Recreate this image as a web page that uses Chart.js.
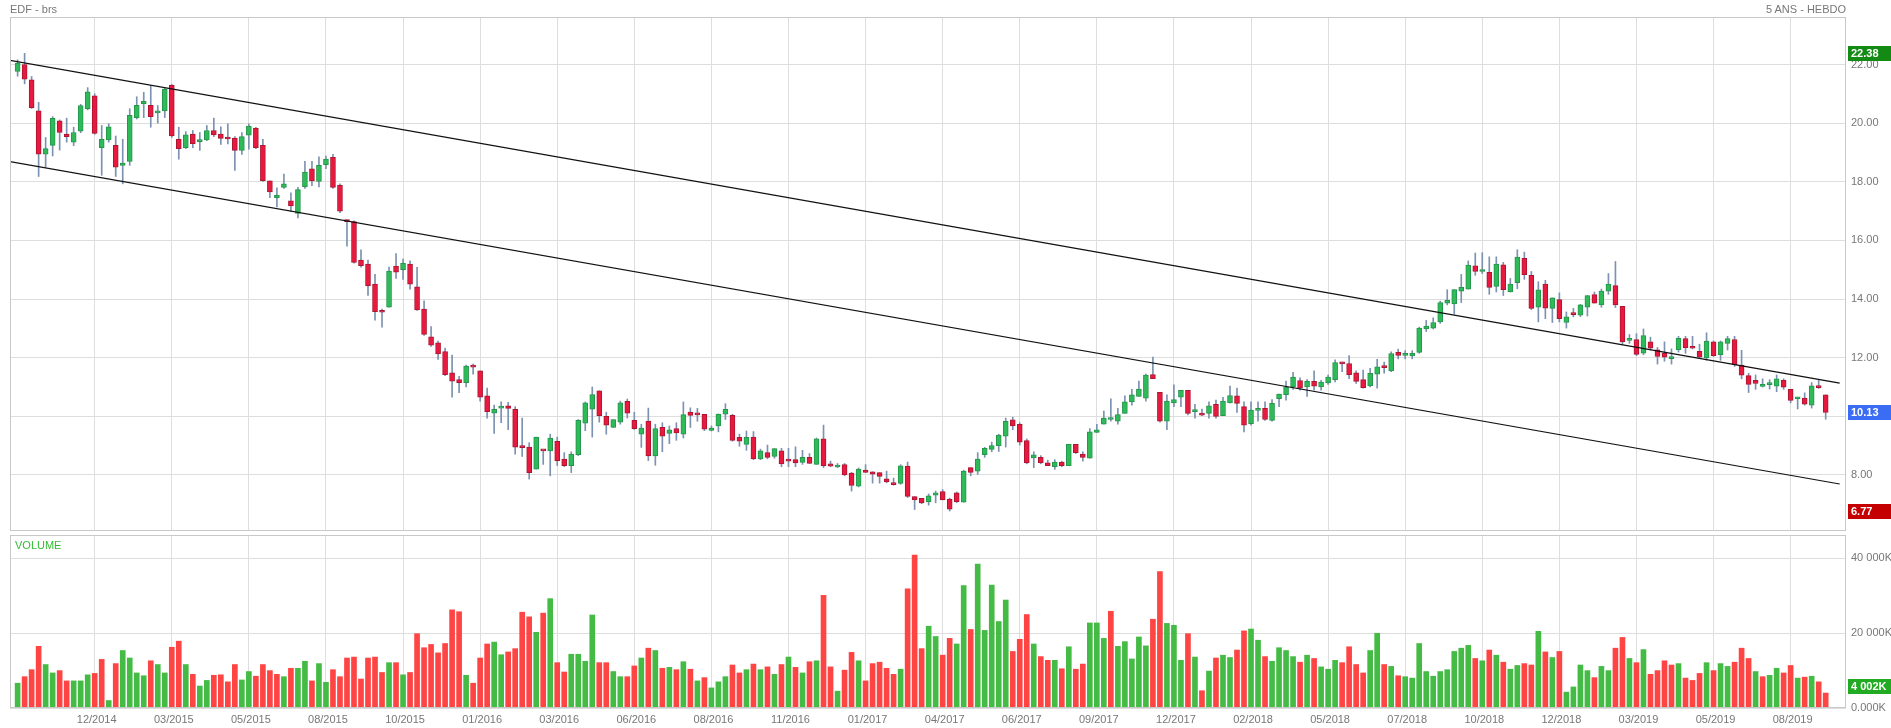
<!DOCTYPE html>
<html lang="fr">
<head>
  <meta charset="UTF-8">
  <title>EDF - brs</title>
  <style>
    html, body { margin: 0; padding: 0; background: #fff; }
    #wrap { position: relative; width: 1891px; height: 728px; overflow: hidden; font-family: "Liberation Sans", Arial, sans-serif; }
    #priceChart { position: absolute; left: 0; top: 0; }
    #volumeChart { position: absolute; left: 0; top: 515px; }
    .lbl { position: absolute; font-size: 11px; line-height: 13px; color: #777; white-space: nowrap; }
  </style>
  <script src="https://cdn.jsdelivr.net/npm/chart.js@4/dist/chart.umd.min.js"></script>
</head>
<body>
  <div id="wrap">
    <canvas id="priceChart" width="1891" height="548"></canvas>
    <canvas id="volumeChart" width="1891" height="213"></canvas>
    <span class="lbl" style="left:10px; top:3px;">EDF - brs</span>
    <span class="lbl" style="right:45px; top:3px;">5 ANS - HEBDO</span>
    <span class="lbl" style="left:15px; top:539px; color:#33bb33;">VOLUME</span>
  </div>

  <script>
    // weekly candles, oldest first (index 0 = first week on the left)
    var opens = [
      21.76, 22.0, 21.48, 20.42, 18.94, 19.24, 20.08, 19.63, 19.35, 19.73, 20.49,
      20.93, 19.16, 19.43, 19.24, 18.56, 18.69, 20.19, 20.66, 20.61, 20.35, 20.42,
      21.29, 19.45, 19.16, 19.63, 19.37, 19.43, 19.75, 19.63, 19.49, 19.49, 19.07,
      19.59, 19.82, 19.24, 18.03, 17.46, 17.81, 17.35, 16.92, 17.82, 18.44, 18.01,
      18.58, 18.83, 17.89, 16.68, 16.64, 15.33, 15.19, 14.51, 13.56, 13.72, 15.12,
      15.0, 15.19, 14.42, 13.66, 12.71, 12.51, 12.21, 11.48, 11.25, 11.15, 11.73,
      11.55, 10.7, 10.11, 10.28, 10.36, 10.24, 8.94, 8.95, 8.2, 8.85, 8.82,
      9.15, 8.54, 8.32, 8.69, 9.77, 10.24, 10.87, 10.0, 9.62, 9.8, 10.51,
      9.86, 9.39, 9.84, 8.65, 9.62, 9.42, 9.58, 9.39, 10.14, 10.08, 10.07,
      9.52, 9.67, 10.07, 10.03, 9.28, 9.04, 9.29, 8.55, 8.76, 8.63, 8.82,
      8.5, 8.52, 8.43, 8.6, 8.36, 9.23, 8.38, 8.27, 8.35, 8.06, 7.62,
      8.17, 8.11, 8.08, 7.87, 7.73, 7.71, 8.3, 7.26, 7.2, 7.08, 7.31,
      7.43, 7.18, 7.39, 7.07, 8.25, 8.13, 8.69, 8.87, 9.0, 9.32, 9.88,
      9.73, 9.17, 8.58, 8.6, 8.41, 8.28, 8.44, 8.32, 9.04, 8.71, 8.57,
      9.45, 9.73, 9.89, 9.83, 10.1, 10.49, 10.68, 10.62, 11.42, 10.82, 9.83,
      10.46, 10.65, 10.89, 10.16, 10.1, 10.1, 10.41, 10.02, 10.46, 10.7, 10.33,
      9.75, 10.2, 10.27, 9.86, 10.6, 10.74, 11.0, 11.22, 11.0, 11.19, 11.0,
      11.14, 11.25, 11.85, 11.8, 11.48, 11.25, 11.04, 11.44, 11.67, 11.55, 12.18,
      12.08, 12.06, 12.18, 12.98, 13.01, 13.22, 13.86, 13.83, 14.27, 14.34, 15.13,
      14.94, 14.91, 14.43, 15.17, 14.24, 14.56, 15.39, 14.81, 13.72, 14.51, 13.68,
      13.98, 13.2, 13.5, 13.45, 13.72, 14.15, 13.8, 14.27, 14.46, 13.75, 12.59,
      12.62, 12.15, 12.54, 12.27, 12.16, 11.97, 12.27, 12.65, 12.33, 12.22, 11.99,
      12.54, 12.1, 12.49, 12.62, 11.75, 11.39, 11.23, 11.02, 11.08, 11.03, 11.23,
      10.92, 10.6, 10.62, 10.38, 11.04, 10.73
    ];
    var highs = [
      22.16, 22.38, 21.59, 20.71, 19.51, 20.22, 20.11, 20.17, 19.86, 20.64, 21.21,
      21.0, 19.92, 19.98, 19.56, 19.45, 20.49, 20.9, 21.05, 21.27, 20.6, 21.21,
      21.32, 19.86, 19.71, 19.75, 19.68, 19.92, 20.17, 19.87, 19.98, 19.54, 19.68,
      19.98, 19.86, 19.45, 18.03, 17.79, 18.26, 17.62, 17.81, 18.7, 18.7, 18.85,
      18.88, 18.94, 17.93, 16.7, 16.67, 15.68, 15.33, 14.84, 13.66, 15.09, 15.55,
      15.36, 15.3, 15.08, 13.94, 13.06, 12.57, 12.33, 12.09, 11.36, 11.75, 11.78,
      11.55, 10.96, 10.38, 10.49, 10.48, 10.33, 9.94, 9.1, 9.29, 8.85, 9.39,
      9.29, 8.76, 8.79, 9.89, 10.49, 11.0, 10.87, 10.14, 9.89, 10.52, 10.59,
      10.14, 9.73, 10.28, 9.73, 9.78, 9.67, 9.78, 10.49, 10.29, 10.27, 10.07,
      9.67, 10.08, 10.43, 10.07, 9.39, 9.5, 9.48, 8.88, 9.02, 8.9, 8.91,
      8.91, 8.96, 8.84, 8.73, 9.26, 9.7, 8.47, 8.39, 8.39, 8.09, 8.24,
      8.35, 8.11, 8.08, 8.13, 7.89, 8.35, 8.44, 7.26, 7.2, 7.35, 7.45,
      7.5, 7.21, 7.42, 8.16, 8.25, 8.76, 8.94, 9.12, 9.39, 9.94, 9.97,
      9.78, 9.23, 8.79, 8.66, 8.5, 8.52, 8.47, 9.04, 9.04, 8.79, 9.58,
      9.73, 10.18, 10.6, 10.27, 10.7, 10.92, 11.2, 11.44, 12.02, 10.82, 10.73,
      11.07, 10.89, 10.89, 10.41, 10.25, 10.49, 10.55, 10.65, 11.03, 10.96, 10.49,
      10.49, 10.49, 10.49, 10.57, 10.76, 11.2, 11.5, 11.31, 11.25, 11.55, 11.23,
      11.41, 11.93, 11.85, 12.07, 11.55, 11.58, 11.64, 11.94, 11.85, 12.2, 12.29,
      12.24, 12.24, 13.04, 13.27, 13.36, 13.93, 14.32, 14.32, 14.84, 15.3, 15.57,
      15.58, 15.44, 15.44, 15.25, 14.7, 15.68, 15.6, 14.94, 14.59, 14.64, 14.04,
      14.21, 13.56, 13.68, 13.82, 14.12, 14.24, 14.34, 14.87, 15.28, 13.75, 12.79,
      12.82, 12.98, 12.7, 12.35, 12.54, 12.3, 12.73, 12.73, 12.73, 12.46, 12.85,
      12.57, 12.57, 12.73, 12.73, 12.25, 11.47, 11.41, 11.28, 11.25, 11.41, 11.28,
      10.92, 10.65, 10.8, 11.15, 11.23, 10.73
    ];
    var lows = [
      21.6, 21.34, 20.5, 18.18, 18.5, 18.88, 19.08, 19.35, 19.23, 19.67, 20.45,
      19.62, 18.22, 19.35, 18.18, 17.93, 18.56, 20.14, 20.19, 19.86, 20.0, 20.19,
      19.51, 18.77, 19.13, 19.16, 19.07, 19.4, 19.54, 19.27, 19.29, 18.39, 18.93,
      19.11, 19.13, 18.01, 17.46, 17.14, 17.77, 16.99, 16.77, 17.77, 17.87, 17.82,
      18.45, 17.77, 16.95, 15.8, 15.22, 15.09, 14.12, 13.28, 13.04, 13.72, 14.7,
      14.67, 14.34, 13.61, 12.76, 12.38, 11.94, 11.39, 10.65, 10.81, 11.0, 11.44,
      10.52, 9.94, 9.42, 9.78, 9.54, 8.71, 8.63, 7.86, 8.2, 8.36, 7.97,
      8.32, 8.28, 8.08, 8.66, 9.51, 9.29, 9.8, 9.39, 9.62, 9.73, 9.94,
      9.55, 8.94, 8.49, 8.33, 8.79, 9.07, 9.18, 9.26, 9.62, 9.83, 9.51,
      9.5, 9.47, 9.89, 9.15, 8.98, 8.84, 8.52, 8.52, 8.55, 8.57, 8.28,
      8.28, 8.28, 8.36, 8.39, 8.36, 8.25, 8.28, 8.25, 7.97, 7.45, 7.59,
      8.08, 7.72, 7.72, 7.73, 7.65, 7.68, 7.23, 6.82, 7.02, 6.97, 7.05,
      7.15, 6.77, 7.05, 7.07, 7.97, 8.02, 8.6, 8.79, 8.8, 8.95, 9.54,
      9.02, 8.38, 8.25, 8.38, 8.32, 8.19, 8.28, 8.32, 8.73, 8.47, 8.57,
      9.45, 9.73, 9.83, 9.73, 10.1, 10.38, 10.68, 10.52, 11.28, 9.8, 9.54,
      10.33, 10.33, 10.05, 9.94, 10.02, 9.94, 9.94, 10.02, 10.46, 10.13, 9.47,
      9.7, 9.83, 9.86, 9.83, 10.33, 10.55, 10.92, 10.89, 10.68, 10.89, 10.89,
      11.09, 11.17, 11.52, 11.28, 11.12, 10.96, 11.0, 10.96, 11.47, 11.52, 11.96,
      11.96, 11.96, 12.15, 12.89, 12.98, 13.17, 13.8, 13.49, 13.88, 14.34, 14.81,
      14.87, 14.16, 14.24, 14.12, 14.24, 14.35, 14.67, 13.64, 13.22, 13.33, 13.2,
      13.22, 13.01, 13.39, 13.4, 13.42, 13.86, 13.72, 14.16, 13.71, 12.46, 12.49,
      12.07, 12.1, 12.26, 11.78, 11.88, 11.78, 12.19, 12.15, 12.3, 11.99, 11.91,
      12.04, 11.91, 12.26, 11.7, 11.28, 10.81, 10.92, 11.0, 10.93, 10.84, 10.92,
      10.46, 10.25, 10.38, 10.28, 10.95, 9.9
    ];
    var closes = [
      22.05, 21.5, 20.53, 18.94, 19.13, 20.16, 19.68, 19.54, 19.68, 20.6, 21.07,
      19.65, 19.45, 19.87, 18.5, 18.64, 20.27, 20.61, 20.74, 20.22, 20.4, 21.16,
      19.56, 19.13, 19.6, 19.3, 19.41, 19.75, 19.6, 19.48, 19.46, 19.07, 19.54,
      19.9, 19.16, 18.04, 17.65, 17.54, 17.93, 17.18, 17.73, 18.33, 18.03, 18.56,
      18.77, 17.81, 17.0, 16.64, 15.25, 15.14, 14.45, 13.57, 13.55, 14.95, 14.92,
      15.22, 14.51, 13.63, 12.79, 12.43, 12.13, 11.42, 11.2, 11.15, 11.71, 11.68,
      10.65, 10.16, 10.24, 10.3, 10.27, 8.95, 8.93, 8.08, 9.29, 8.82, 9.26,
      8.49, 8.32, 8.71, 9.86, 10.46, 10.74, 10.02, 9.7, 9.89, 10.46, 10.11,
      9.58, 9.6, 8.65, 9.58, 9.32, 9.54, 9.43, 10.06, 10.03, 10.05, 9.56,
      9.6, 10.08, 10.24, 9.18, 9.15, 9.28, 8.55, 8.82, 8.6, 8.9, 8.38,
      8.47, 8.41, 8.6, 8.39, 9.23, 8.32, 8.3, 8.32, 8.0, 7.64, 8.2,
      8.09, 8.03, 7.95, 7.76, 7.67, 8.31, 7.27, 7.15, 7.05, 7.29, 7.39,
      7.15, 6.83, 7.09, 8.13, 8.09, 8.54, 8.91, 9.0, 9.36, 9.83, 9.67,
      9.12, 8.41, 8.69, 8.41, 8.32, 8.44, 8.32, 9.04, 8.76, 8.6, 9.47,
      9.54, 9.94, 9.9, 10.06, 10.49, 10.73, 10.93, 11.41, 11.28, 9.83, 10.52,
      10.57, 10.89, 10.1, 10.19, 10.04, 10.36, 10.0, 10.52, 10.71, 10.44, 9.7,
      10.21, 10.22, 9.89, 10.44, 10.76, 11.0, 11.34, 10.96, 11.19, 11.03, 11.17,
      11.34, 11.83, 11.79, 11.42, 11.19, 10.98, 11.47, 11.69, 11.66, 12.14, 12.08,
      12.1, 12.15, 13.01, 13.08, 13.2, 13.88, 13.96, 14.32, 14.4, 15.16, 14.94,
      14.96, 14.4, 15.19, 14.32, 14.51, 15.43, 14.83, 13.68, 14.31, 13.69, 14.04,
      13.33, 13.39, 13.47, 13.8, 14.12, 13.86, 14.27, 14.51, 13.8, 12.54, 12.64,
      12.11, 12.75, 12.32, 12.04, 12.02, 11.99, 12.66, 12.34, 12.32, 12.02, 12.57,
      12.07, 12.54, 12.65, 11.76, 11.4, 11.09, 11.12, 11.05, 11.09, 11.28, 10.99,
      10.54, 10.62, 10.41, 11.04, 10.98, 10.13
    ];
    // weekly volume, in thousands of shares
    var volumes = [
      6625, 8375, 10250, 16500, 11625, 9375, 10000, 7250, 7250, 7250, 8875,
      9250, 13000, 2000, 11875, 15375, 13375, 9375, 8625, 12625, 11625, 9375,
      16250, 17875, 11625, 9000, 5875, 7375, 8750, 8875, 7000, 11625, 7500,
      9750, 8500, 11625, 10000, 9000, 8375, 10625, 10625, 12500, 7250, 11875,
      6875, 10250, 8375, 13375, 13625, 7750, 13375, 13625, 9500, 12125, 12125,
      8875, 9500, 19875, 16125, 17000, 14750, 17250, 26250, 25750, 8750, 6625,
      13375, 17125, 17625, 14250, 15000, 15875, 25625, 24375, 20250, 25375, 29250,
      12125, 9625, 14375, 14375, 12500, 24875, 12125, 12125, 9750, 8375, 8375,
      11250, 13375, 16000, 15375, 10625, 10875, 10250, 12375, 10375, 7250, 8125,
      5375, 7000, 8375, 11500, 9375, 10250, 11750, 10250, 11000, 9000, 11625,
      13625, 10875, 9375, 12375, 12625, 30125, 11000, 4500, 10125, 14875, 12625,
      7250, 11875, 12250, 10625, 9000, 10375, 31875, 40875, 15875, 21875, 19125,
      14125, 18625, 17125, 32750, 21000, 38500, 20750, 32875, 23125, 28875, 15125,
      18375, 25000, 17125, 13750, 12750, 12750, 10500, 16375, 10375, 11750, 22750,
      22750, 18625, 25875, 16500, 17750, 13125, 19000, 16625, 23750, 36500, 22625,
      22125, 12750, 19875, 13625, 4625, 9875, 13375, 14125, 13500, 15500, 20625,
      21125, 18125, 13750, 12500, 16125, 15375, 13750, 12250, 14125, 13250, 11000,
      10375, 12750, 12125, 16375, 11625, 9375, 15375, 20000, 11625, 11125, 8625,
      8375, 8000, 17250, 9750, 8500, 9750, 10250, 15125, 16000, 16750, 13250,
      12625, 15500, 14125, 12250, 10375, 11375, 11875, 11500, 20500, 15000, 13500,
      15125, 4250, 5625, 11500, 10000, 8125, 11125, 10000, 16000, 18875, 13250,
      12125, 15625, 9000, 10000, 12625, 11500, 11875, 8000, 7375, 9250, 12125,
      10000, 11875, 11125, 12250, 16000, 13250, 9750, 8375, 8750, 10625, 9375,
      11375, 8000, 8250, 8500, 7000, 4002
    ];

    // date labels, one every 11 weeks starting at week 11
    var tickLabels = [
      "12/2014", "03/2015", "05/2015", "08/2015", "10/2015", "01/2016", "03/2016", "06/2016",
      "08/2016", "11/2016", "01/2017", "04/2017", "06/2017", "09/2017", "12/2017", "02/2018",
      "05/2018", "07/2018", "10/2018", "12/2018", "03/2019", "05/2019", "08/2019"
    ];
    var TICK_EVERY = 11;
    var priceTicks = [8, 10, 12, 14, 16, 18, 20, 22];
    var volumeTicks = [0, 20000, 40000];

    // the two channel lines drawn on the chart: [week, price]
    var upperTrend = [[-1.085, 22.14], [260, 11.13]];
    var lowerTrend = [[-1.085, 18.69], [260, 7.69]];

    var X_MIN = -1.085, X_MAX = 260.9;
    var FONT = { family: '"Liberation Sans", Arial, sans-serif', size: 11 };
    var GRID = '#dedede', FRAME = '#c8c8c8', TEXT = '#777';
    var UP = '#2fba5a', UP_BORDER = '#23964a', DOWN = '#e8193f', DOWN_BORDER = '#ad1430';
    var WICK = '#7c92b0', VOL_UP = '#44bb44', VOL_DOWN = '#ff4444';

    function fmtK(v) {
      if (v == 0) return '0.000K';
      return String(Math.round(v)).replace(/\B(?=(\d{3})+(?!\d))/g, ' ') + 'K';
    }

    var gridIdx = tickLabels.map(function(_, k) { return (k + 1) * TICK_EVERY; });

    /* grey frame around the plot area */
    var framePlugin = {
      id: 'frame',
      afterDraw: function(chart) {
        var a = chart.chartArea, ctx = chart.ctx;
        ctx.save();
        ctx.strokeStyle = FRAME;
        ctx.lineWidth = 1;
        ctx.strokeRect(Math.round(a.left) + 0.5, Math.round(a.top) + 0.5,
                       Math.round(a.right - a.left) - 1, Math.round(a.bottom - a.top) - 1);
        ctx.restore();
      }
    };

    /* coloured value tags on the right axis */
    var badgePlugin = {
      id: 'badges',
      afterDraw: function(chart, args, opts) {
        var ctx = chart.ctx, y = chart.scales.y, a = chart.chartArea;
        ctx.save();
        ctx.font = 'bold 11px ' + FONT.family;
        ctx.textBaseline = 'middle';
        (opts.list || []).forEach(function(b) {
          var py = y.getPixelForValue(b.value);
          if (b.maxY != null) py = Math.min(py, a.bottom - b.maxY);
          ctx.fillStyle = b.color;
          ctx.fillRect(a.right + 2, Math.round(py - 7.5), chart.width - a.right - 2, 15);
          ctx.fillStyle = '#fff';
          ctx.fillText(b.text, a.right + 5, py + 0.5);
        });
        ctx.restore();
      }
    };

    function xScale(showLabels) {
      return {
        type: 'linear', min: X_MIN, max: X_MAX, offset: false,
        grid: { color: GRID, drawTicks: false, offset: false },
        border: { display: false },
        ticks: {
          display: showLabels, color: TEXT, font: FONT, padding: 5, labelOffset: 2,
          maxRotation: 0, autoSkip: false,
          callback: function(v) { return tickLabels[v / TICK_EVERY - 1]; }
        },
        afterBuildTicks: function(s) { s.ticks = gridIdx.map(function(v) { return { value: v }; }); },
        afterFit: function(s) { s.height = showLabels ? 20 : 0; }
      };
    }

    // price pane
    var bodies = [], wicks = [], bodyColors = [], bodyBorders = [];
    for (var i = 0; i < opens.length; i++) {
      bodies.push({ x: i, y: [opens[i], closes[i]] });
      wicks.push({ x: i, y: [lows[i], highs[i]] });
      var up = closes[i] >= opens[i];
      bodyColors.push(up ? UP : DOWN);
      bodyBorders.push(up ? UP_BORDER : DOWN_BORDER);
    }
    var maxHigh = Math.max.apply(null, highs);
    var minLow = Math.min.apply(null, lows);
    var lastClose = closes[closes.length - 1];

    new Chart(document.getElementById('priceChart'), {
      type: 'bar',
      data: {
        datasets: [
          { type: 'line', data: upperTrend.map(function(p) { return { x: p[0], y: p[1] }; }),
            borderColor: '#111', borderWidth: 1.2, pointRadius: 0, order: -1 },
          { type: 'line', data: lowerTrend.map(function(p) { return { x: p[0], y: p[1] }; }),
            borderColor: '#111', borderWidth: 1.2, pointRadius: 0, order: -1 },
          { data: bodies, backgroundColor: bodyColors, borderColor: bodyBorders, borderWidth: 1,
            borderSkipped: false, barThickness: 5, grouped: false, minBarLength: 2, order: 1 },
          { data: wicks, backgroundColor: WICK, borderWidth: 0, barThickness: 1, grouped: false, order: 2 }
        ]
      },
      options: {
        responsive: false, animation: false, events: [],
        layout: { padding: { left: 10, top: 17, right: 0, bottom: 17 } },
        plugins: {
          legend: { display: false }, tooltip: { enabled: false },
          badges: { list: [
            { value: maxHigh, text: maxHigh.toFixed(2), color: '#138a13' },
            { value: lastClose, text: lastClose.toFixed(2), color: '#3a6cf4' },
            { value: minLow, text: minLow.toFixed(2), color: '#c40000' }
          ] }
        },
        scales: {
          x: xScale(false),
          y: {
            position: 'right', min: 6.088, max: 23.62,
            grid: { color: GRID, drawTicks: false },
            border: { display: false },
            ticks: { color: TEXT, font: FONT, padding: 5, callback: function(v) { return v.toFixed(2); } },
            afterBuildTicks: function(s) { s.ticks = priceTicks.map(function(v) { return { value: v }; }); },
            afterFit: function(s) { s.width = 45; }
          }
        }
      },
      plugins: [framePlugin, badgePlugin]
    });

    // volume pane
    var volData = [], volColors = [];
    for (var j = 0; j < volumes.length; j++) {
      volData.push({ x: j, y: volumes[j] });
      volColors.push(j == 0 || closes[j] >= closes[j - 1] ? VOL_UP : VOL_DOWN);
    }
    var lastVol = volumes[volumes.length - 1];

    new Chart(document.getElementById('volumeChart'), {
      type: 'bar',
      data: {
        datasets: [
          { data: volData, backgroundColor: volColors, borderWidth: 0, barThickness: 5, grouped: false }
        ]
      },
      options: {
        responsive: false, animation: false, events: [],
        layout: { padding: { left: 10, top: 20, right: 0, bottom: 0 } },
        plugins: {
          legend: { display: false }, tooltip: { enabled: false },
          badges: { list: [ { value: lastVol, text: fmtK(lastVol), color: '#22aa22', maxY: 22 } ] }
        },
        scales: {
          x: xScale(true),
          y: {
            position: 'right', min: 0, max: 46270,
            grid: { color: GRID, drawTicks: false },
            border: { display: false },
            ticks: { color: TEXT, font: FONT, padding: 5, callback: function(v) { return fmtK(v); } },
            afterBuildTicks: function(s) { s.ticks = volumeTicks.map(function(v) { return { value: v }; }); },
            afterFit: function(s) { s.width = 45; }
          }
        }
      },
      plugins: [framePlugin, badgePlugin]
    });
  </script>
</body>
</html>
